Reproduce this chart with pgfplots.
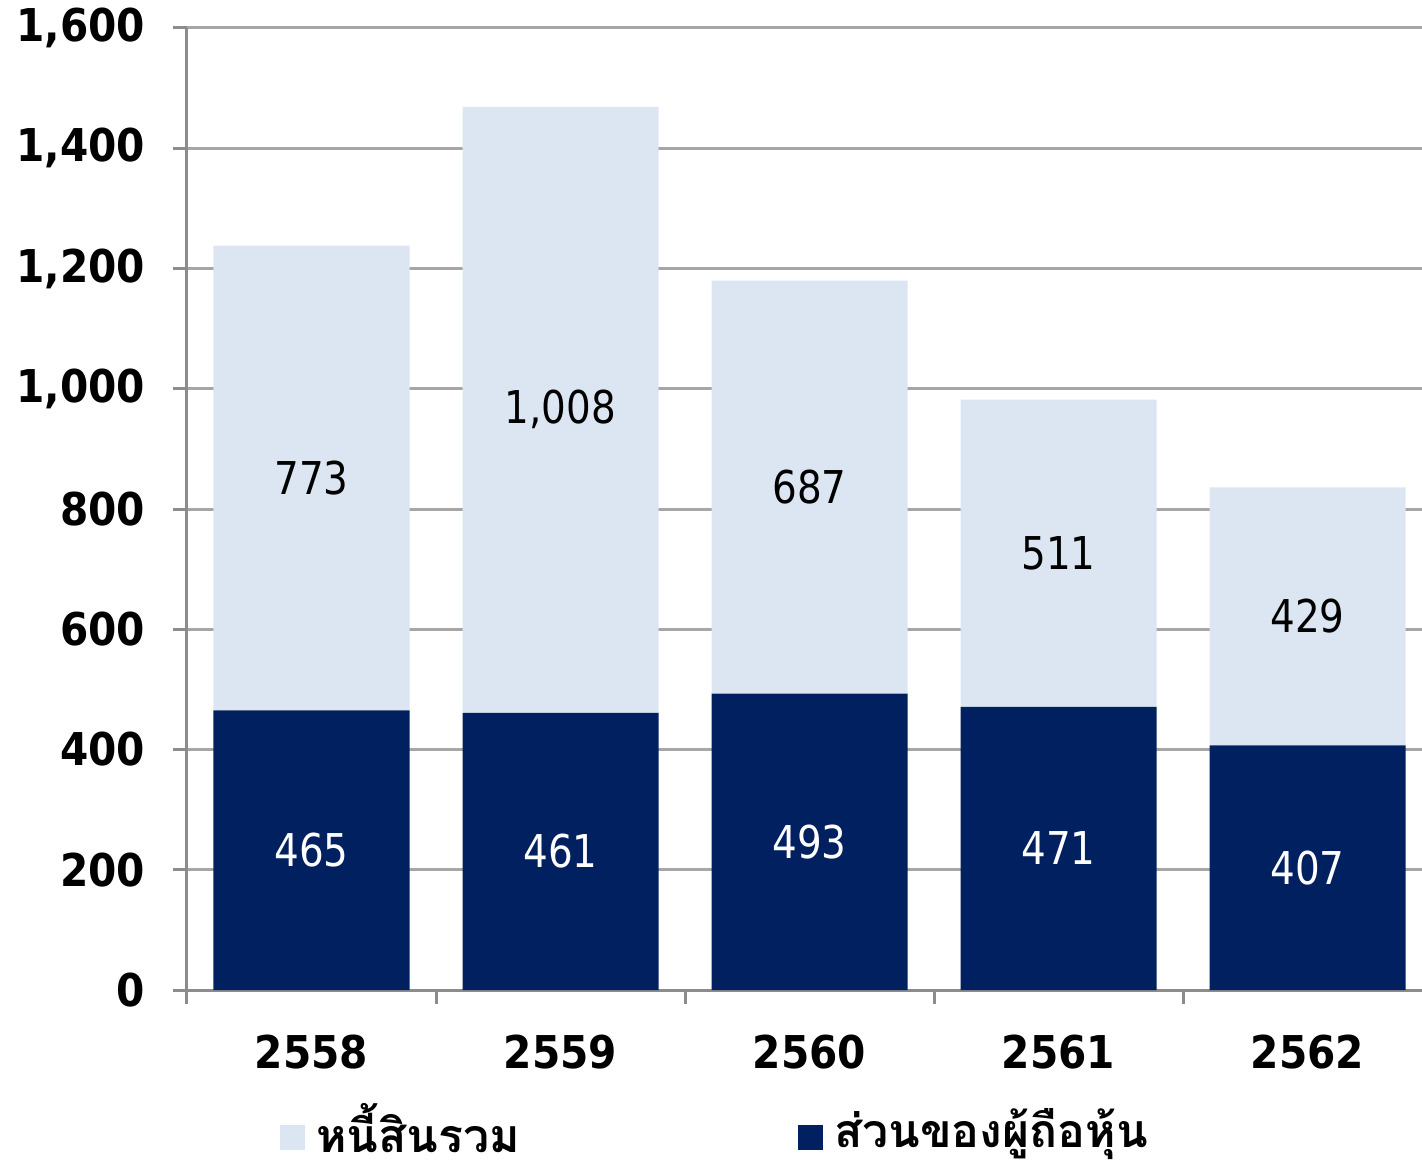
\documentclass[border=0pt]{standalone}
\usepackage{fontspec}
\setmainfont{DejaVu Sans}
\newfontfamily\tickfont{DejaVu Sans}[FakeStretch=0.9]
\newfontfamily\valfont{DejaVu Sans}[FakeStretch=0.86]
\newfontfamily\thaifont[Script=Thai]{Loma}
\usepackage{pgfplots}
\pgfplotsset{compat=1.18}
\usepackage{pgfplotstable}

\definecolor{navy}{RGB}{0,32,96}
\definecolor{lightblue}{RGB}{220,230,242}
\definecolor{gridgray}{RGB}{166,166,166}
\definecolor{axisgray}{RGB}{140,140,140}

\pgfplotstableread{
x eq liab eqlab liablab
0 465 773 465 773
1 461 1008 461 1,008
2 493 687 493 687
3 471 511 471 511
4 407 429 407 429
}\data

\begin{document}
\begin{tikzpicture}
\begin{axis}[
  at={(93.5pt,87pt)}, anchor=south west,
  scale only axis, width=622.5pt, height=481pt,
  ybar stacked, bar width=98pt,
  xmin=-0.5, xmax=4.5, ymin=0, ymax=1600,
  axis x line*=bottom, axis y line*=left,
  axis line style={axisgray, line width=1.5pt, -},
  tick pos=left, tick align=outside,
  major tick length=7pt,
  every tick/.style={axisgray, line width=1.5pt},
  ytick={0,200,...,1600},
  ymajorgrids, grid style={gridgray, line width=1.5pt},
  xtick={-0.5,0.5,1.5,2.5,3.5}, xticklabels={},
  extra x ticks={0,1,2,3,4},
  extra x tick labels={2558,2559,2560,2561,2562},
  extra x tick style={major tick length=0pt, grid=none},
  /pgf/number format/assume math mode=true,
  /pgf/number format/1000 sep={,},
  ticklabel style={font=\tickfont\bfseries\fontsize{22.6}{26}\selectfont},
  yticklabel style={xshift=-10.5pt},
  xticklabel style={yshift=-19pt},
  legend style={at={(0.0747,-0.1450)}, anchor=west, draw=none, fill=none,
    inner sep=0pt, outer sep=0pt, column sep=5.5pt,
    nodes={inner sep=0pt, yshift=4pt},
    font=\thaifont\bfseries\fontsize{23.2}{27}\selectfont},
  legend columns=2, reverse legend,
  legend image code/.code={\draw[#1, draw=none] (0pt,-6.25pt) rectangle (12.5pt,6.25pt);},
  nodes near coords,
  point meta=explicit symbolic,
  every node near coord/.append style={anchor=center,
    font=\valfont\fontsize{22.6}{26}\selectfont},
]
\addplot[fill=navy, draw=none,
  every node near coord/.append style={text=white}]
  table[x=x, y=eq, meta=eqlab] {\data};
\addlegendentry{ส่วนของผู้ถือหุ้น}
\addplot[fill=lightblue, draw=none,
  every node near coord/.append style={text=black}]
  table[x=x, y=liab, meta=liablab] {\data};
\addlegendentry{\makebox[235.5pt][l]{หนี้สินรวม}}
\end{axis}
\pgfresetboundingbox
\path[use as bounding box] (0,0) rectangle (711pt,582pt);
\end{tikzpicture}
\end{document}
